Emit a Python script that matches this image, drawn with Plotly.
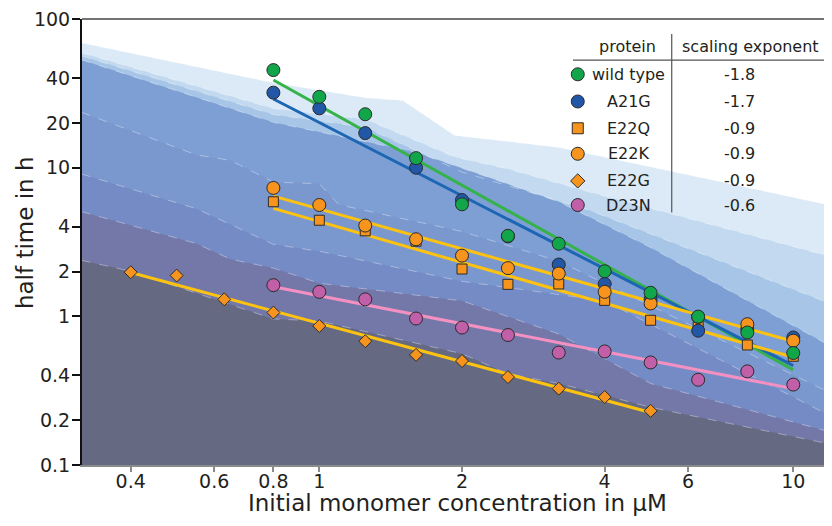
import math
import plotly.graph_objects as go

# ---------------- data ----------------
conc = [0.8, 1.0, 1.25, 1.6, 2.0, 2.5, 3.2, 4.0, 5.0, 6.3, 8.0, 10.0]
wild_type = [45.4, 30.0, 22.9, 11.6, 5.67, 3.48, 3.08, 2.01, 1.44, 0.995, 0.778, 0.566]
a21g = [32.0, 25.1, 17.1, 10.0, 6.06, 3.45, 2.23, 1.65, 1.30, 0.80, 0.82, 0.72]
e22q = [5.9, 4.43, 3.76, 3.2, 2.08, 1.64, 1.65, 1.28, 0.94, 0.853, 0.641, 0.538]
e22k = [7.31, 5.61, 4.08, 3.3, 2.56, 2.11, 1.94, 1.46, 1.22, 0.99, 0.885, 0.685]
d23n = [1.62, 1.46, 1.30, 0.966, 0.84, 0.748, 0.57, 0.58, 0.489, 0.374, 0.426, 0.347]
conc_e22g = [0.4, 0.5, 0.63, 0.8, 1.0, 1.25, 1.6, 2.0, 2.5, 3.2, 4.0, 5.0]
e22g = [1.98, 1.88, 1.30, 1.06, 0.86, 0.68, 0.55, 0.50, 0.39, 0.326, 0.286, 0.231]

# fitted power-law lines (end points)
fit_wt_x, fit_wt_y = [0.8, 10.0], [38.9, 0.436]
fit_a21g_x, fit_a21g_y = [0.8, 10.0], [29.0, 0.466]
fit_e22k_x, fit_e22k_y = [0.8, 10.0], [6.44, 0.678]
fit_e22q_x, fit_e22q_y = [0.8, 10.0], [5.32, 0.53]
fit_e22g_x, fit_e22g_y = [0.4, 5.0], [1.97, 0.225]
fit_d23n_x, fit_d23n_y = [0.8, 10.0], [1.58, 0.326]

# legend table
proteins = ["wild type", "A21G", "E22Q", "E22K", "E22G", "D23N"]
exponents = ["-1.8", "-1.7", "-0.9", "-0.9", "-0.9", "-0.6"]

# background shaded bands: upper boundary of each band (lightest first)
band_x = [
    [0.315, 0.8, 1.25, 1.5, 1.93, 3.2, 12.1],
    [0.315, 0.8, 1.25, 1.93, 2.5, 3.7, 12.1],
    [0.315, 0.8, 1.25, 2.0, 3.7, 12.1],
    [0.315, 0.8, 1.6, 3.2, 5.0, 12.1],
    [0.315, 0.55, 0.65, 0.8, 1.0, 1.1, 2.0, 3.2, 12.1],
    [0.315, 0.55, 0.8, 1.0, 2.0, 4.0, 12.1],
    [0.315, 0.55, 0.65, 0.8, 1.0, 2.0, 3.2, 5.0, 12.1],
    [0.315, 0.4, 0.8, 1.0, 2.0, 2.5, 3.2, 5.0, 12.1],
]
band_y = [
    [69.2, 37.3, 29.6, 28.3, 16.5, 13.7, 5.55],
    [59.3, 25.0, 21.2, 11.8, 9.8, 6.88, 2.5],
    [56.6, 22.8, 18.7, 9.35, 5.2, 1.2],
    [53.3, 20.2, 12.7, 5.9, 2.9, 0.62],
    [23.6, 12.2, 11.2, 8.0, 7.8, 5.63, 3.72, 2.35, 0.30],
    [9.07, 5.3, 3.05, 2.74, 1.72, 1.27, 0.21],
    [5.06, 3.09, 2.42, 2.11, 1.67, 1.27, 0.76, 0.353, 0.165],
    [2.38, 2.01, 0.96, 0.93, 0.56, 0.41, 0.353, 0.244, 0.137],
]
band_colors = ["#dbeaf6", "#c2d9ef", "#a7c6e7", "#7e9fd4", "#7a97ce",
               "#758bc6", "#7378a8", "#656a82"]

X_MIN, X_MAX = 0.3157, 12.07
Y_MIN, Y_MAX = 0.0998, 100.2

# ---------------- figure ----------------
fig = go.Figure()

for bx, by, col in zip(band_x, band_y, band_colors):
    fig.add_trace(go.Scatter(
        x=bx + [bx[-1], bx[0]], y=by + [0.05, 0.05],
        fill="toself", fillcolor=col, mode="lines",
        line=dict(width=0), hoverinfo="skip", showlegend=False))
for bx, by in zip(band_x, band_y):
    fig.add_trace(go.Scatter(
        x=bx, y=by, mode="lines",
        line=dict(color="rgba(255,255,255,0.45)", width=0.8, dash="dash"),
        hoverinfo="skip", showlegend=False))

GREEN, BLUE, ORANGE, PINK = "#12a64b", "#2157a6", "#f7941d", "#c15fa8"
L_GREEN, L_BLUE, L_YELLOW, L_PINK = "#35b34a", "#1d66b4", "#fec210", "#f490c2"
EDGE = dict(color="#2b2b2b", width=1)

def fit_line(x, y, col):
    fig.add_trace(go.Scatter(x=x, y=y, mode="lines",
                             line=dict(color=col, width=3), showlegend=False))

fit_line(fit_wt_x, fit_wt_y, L_GREEN)
fit_line(fit_a21g_x, fit_a21g_y, L_BLUE)
fit_line(fit_e22k_x, fit_e22k_y, L_YELLOW)
fit_line(fit_e22q_x, fit_e22q_y, L_YELLOW)
fit_line(fit_e22g_x, fit_e22g_y, L_YELLOW)
fit_line(fit_d23n_x, fit_d23n_y, L_PINK)

def pts(x, y, col, sym, size, name):
    fig.add_trace(go.Scatter(x=x, y=y, mode="markers", name=name,
                             marker=dict(color=col, symbol=sym, size=size, line=EDGE),
                             showlegend=False))

pts(conc_e22g, e22g, ORANGE, "diamond", 10, "E22G")
pts(conc, d23n, PINK, "circle", 13, "D23N")
pts(conc, e22q, ORANGE, "square", 10, "E22Q")
pts(conc, a21g, BLUE, "circle", 13, "A21G")
pts(conc, e22k, ORANGE, "circle", 13, "E22K")
pts(conc, wild_type, GREEN, "circle", 13, "wild type")

# ---------------- legend table (overlay axis in 0..1 units) ----------------
row_y = [0.8760, 0.8151, 0.7550, 0.6978, 0.6370, 0.5829]
leg_colors = [GREEN, BLUE, ORANGE, ORANGE, ORANGE, PINK]
leg_symbols = ["circle", "circle", "square", "circle", "diamond", "circle"]
leg_sizes = [13, 13, 11, 13, 11, 13]
for yy, c, s, sz in zip(row_y, leg_colors, leg_symbols, leg_sizes):
    fig.add_trace(go.Scatter(x=[0.661], y=[yy], mode="markers", xaxis="x2", yaxis="y2",
                             marker=dict(color=c, symbol=s, size=sz, line=EDGE),
                             showlegend=False, cliponaxis=False))

FONT = "DejaVu Sans, Verdana, sans-serif"
TXT = "#231f20"
annotations = [
    dict(x=0.7267, y=0.9392, text="protein"),
    dict(x=0.8907, y=0.9392, text="scaling exponent"),
]
for yy, p, e in zip(row_y, proteins, exponents):
    annotations.append(dict(x=0.7293, y=yy, text=p))
    annotations.append(dict(x=0.876, y=yy, text=e))
for a in annotations:
    a.update(xref="paper", yref="paper", showarrow=False, xanchor="center",
             yanchor="middle", font=dict(family=FONT, size=16, color=TXT))

annotations.append(dict(x=0.5, y=-0.0850, xref="paper", yref="paper", showarrow=False,
                        text="Initial monomer concentration in μM", xanchor="center",
                        yanchor="middle", font=dict(family=FONT, size=23, color=TXT)))
annotations.append(dict(x=-0.0960, y=0.52, xref="paper", yref="paper", showarrow=False,
                        text="half time in h", textangle=-90, xanchor="left",
                        yanchor="middle", font=dict(family=FONT, size=23, color=TXT)))

shapes = [
    dict(type="line", xref="paper", yref="paper", x0=0.6547, x1=1.0, y0=0.908, y1=0.908,
         line=dict(color="#555555", width=1.2), layer="above"),
    dict(type="line", xref="paper", yref="paper", x0=0.7863, x1=0.7863, y0=0.5664, y1=0.9666,
         line=dict(color="#555555", width=1.2), layer="above"),
    dict(type="line", xref="paper", yref="paper", x0=0, x1=1, y0=1, y1=1,
         line=dict(color="#444444", width=1.5), layer="above"),
]

xt = [0.4, 0.6, 0.8, 1, 2, 4, 6, 10]
yt = [0.1, 0.2, 0.4, 1, 2, 4, 10, 20, 40, 100]

# page body has an 8px margin, so the figure is 8px smaller than the window
fig.update_layout(
    width=824, height=518,
    margin=dict(l=74, r=0, t=8, b=61),
    paper_bgcolor="white", plot_bgcolor="white",
    font=dict(family=FONT, size=19, color=TXT),
    annotations=annotations, shapes=shapes,
    xaxis=dict(type="log", range=[math.log10(X_MIN), math.log10(X_MAX)],
               tickvals=xt, ticktext=[str(v) for v in xt],
               showgrid=False, zeroline=False, showline=True, linecolor="#8a8a8a",
               linewidth=2, ticks="outside", ticklen=5, tickcolor="#8a8a8a", tickwidth=1.5,
               ticklabelstandoff=-7,
               tickfont=dict(family=FONT, size=19, color=TXT)),
    yaxis=dict(type="log", range=[math.log10(Y_MIN), math.log10(Y_MAX)],
               tickvals=yt, ticktext=[str(v) for v in yt],
               showgrid=False, zeroline=False, showline=True, linecolor="#111111",
               linewidth=2, ticks="outside", ticklen=8, tickcolor="#111111", tickwidth=2,
               ticklabelstandoff=-2, ticklabeloverflow="allow",
               tickfont=dict(family=FONT, size=19, color=TXT)),
    xaxis2=dict(overlaying="x", anchor="y2", range=[0, 1], visible=False, fixedrange=True),
    yaxis2=dict(overlaying="y", anchor="x2", range=[0, 1], visible=False, fixedrange=True),
    showlegend=False,
)

fig.write_html("out.html")
